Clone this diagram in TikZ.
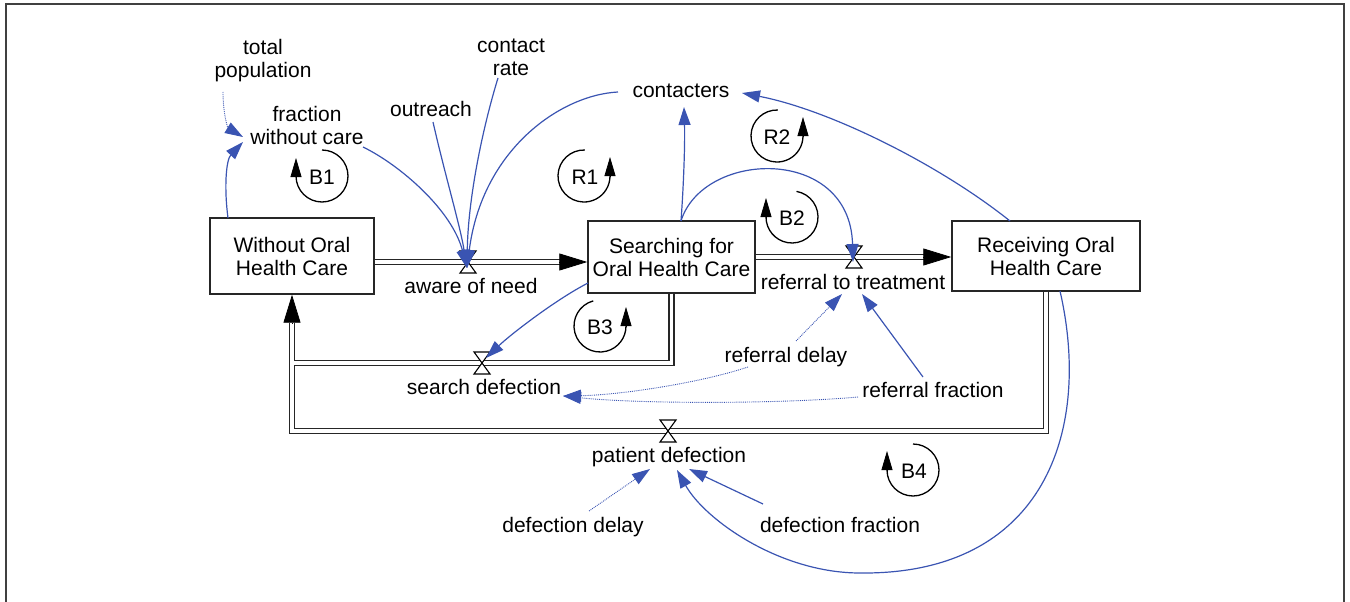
\documentclass[tikz,border=0pt]{standalone}
\usepackage{fontspec}
\setmainfont{Liberation Sans}
\usetikzlibrary{arrows.meta,calc}
\definecolor{linkblue}{RGB}{58,84,178}
\definecolor{framegray}{RGB}{64,64,64}
\tikzset{
  txt/.style={font=\fontsize{21}{23}\selectfont, inner sep=0pt, align=center},
  lab/.style={txt, anchor=base},
  stock/.style={txt, draw=black!85, line width=1.4pt},
  pipe/.style={draw=black!85, line width=1.3pt, double=white, double distance=3.6pt, line join=miter},
  pipetip/.style={-{Triangle[length=28pt,width=17pt]}, black, line width=0.8pt},
  link/.style={draw=linkblue, line width=1.2pt, -{Triangle[length=18pt,width=12pt]}},
  dlink/.style={link, line width=0.9pt, densely dotted},
  loopline/.style={black, line width=1.3pt},
  looptip/.style={-{Triangle[length=19pt,width=11pt]}, black, line width=0.8pt},
  valvestyle/.style={draw=black, fill=white, line width=1.1pt},
  valve/.pic={\draw[valvestyle] (-8,-11) -- (8,-11) -- (-8,11) -- (8,11) -- cycle;}
}
\begin{document}
\begin{tikzpicture}[x=1pt,y=-1pt]
\useasboundingbox (0,0) rectangle (1350,602);
\draw[framegray, line width=2pt] (6,602) -- (6,4) -- (1344,4) -- (1344,602);

% stocks
\node[stock, minimum width=164pt, minimum height=76pt] (wo) at (292,256) {Without Oral\\Health Care};
\node[stock, minimum width=167pt, minimum height=72pt] (sr) at (671.5,257) {Searching for\\Oral Health Care};
\node[stock, minimum width=188pt, minimum height=70pt] (rc) at (1046,256) {Receiving Oral\\Health Care};

% valve positions
\coordinate (v1) at (468,262);
\coordinate (v2) at (854,257);
\coordinate (v3) at (482,363);
\coordinate (v4) at (668,431);

% pipes
\draw[pipe, shorten >=27pt] (wo.east |- v1) -- (sr.west |- v1);
\draw[pipetip] ($(sr.west |- v1)+(-28,0)$) -- (sr.west |- v1);
\draw[pipe, shorten >=27pt] (sr.east |- v2) -- (rc.west |- v2);
\draw[pipetip] ($(rc.west |- v2)+(-28,0)$) -- (rc.west |- v2);
\draw[pipe, shorten >=28pt] (rc.south) -- (rc.south |- v4) -- (wo.south |- v4) -- (wo.south);
\draw[pipetip] ($(wo.south)+(0,29)$) -- (wo.south);
\draw[pipe] (sr.south) -- (sr.south |- v3) -- ($(wo.south |- v3)+(2.4,0)$);

\pic at (v1) {valve};
\pic at (v2) {valve};
\pic at (v3) {valve};
\pic at (v4) {valve};

% auxiliary labels
\node[txt] (tp) at (263,61) {total\\population};
\node[txt] (fwc) at (307,125) {fraction\\without care};
\node[lab] (outr) at (431,116.5) {outreach};
\node[txt] (cr) at (511,57) {contact\\rate};
\node[lab] (cont) at (681,97.5) {contacters};
\node[lab] (awn) at (471,293.5) {aware of need};
\node[lab] (rtt) at (853,289.5) {referral to treatment};
\node[lab] (sdf) at (484,394.5) {search defection};
\node[lab] (rdl) at (786,362.5) {referral delay};
\node[lab] (rfr) at (933,397.5) {referral fraction};
\node[lab] (pdf) at (669,462.5) {patient defection};
\node[lab] (ddl) at (573,532.5) {defection delay};
\node[lab] (dfr) at (840,532.5) {defection fraction};

% connector end points
\coordinate (woTop) at (228,218);
\coordinate (fwcIn) at (243,142);
\coordinate (tpOut) at (223,92);
\coordinate (fwcIn2) at (243,137);
\coordinate (fwcOut) at (363,147);
\coordinate (outrOut) at (433,122);
\coordinate (crOut) at (498,78);
\coordinate (contOut) at (618,92);
\coordinate (v1in) at (467,268);
\coordinate (srTop) at (681,221);
\coordinate (contIn) at (684,107);
\coordinate (v2in) at (853,262);
\coordinate (rcTop) at (1010,221);
\coordinate (contIn2) at (742,93);
\coordinate (srLeft) at (588,283);
\coordinate (v3in) at (486,358);
\coordinate (rdlUp) at (796,341);
\coordinate (rttIn1) at (842,294);
\coordinate (rfrUp) at (923,377);
\coordinate (rttIn2) at (862,294);
\coordinate (rdlLeft) at (748,367);
\coordinate (sdfIn) at (563,396);
\coordinate (rfrLeft) at (858,397);
\coordinate (ddlUp) at (589,511);
\coordinate (pdfIn1) at (650,469);
\coordinate (dfrUp) at (763,504);
\coordinate (pdfIn2) at (689,469);
\coordinate (rcBot) at (1060,291);
\coordinate (arcLow) at (860,573);
\coordinate (pdfIn3) at (677,470);

% links
\draw[link] (woTop) .. controls +(-4,-30) and +(-17,18) .. (fwcIn);
\draw[dlink] (tpOut) .. controls +(0,23) and +(-15,-9) .. (fwcIn2);
\draw[link] (fwcOut) .. controls +(37,18) and +(-15,-58) .. (v1in);
\draw[link] (outrOut) .. controls +(12,53) and +(-7,-43) .. (v1in);
\draw[link] (crOut) .. controls +(-16,52) and +(1,-68) .. (v1in);
\draw[link] (contOut) .. controls +(-58,3) and +(15,-118) .. (v1in);
\draw[link] (srTop) .. controls +(3,-41) and +(1,33) .. (contIn);
\draw[link] (srTop) .. controls +(22,-71) and +(-3,-117) .. (v2in);
\draw[link] (rcTop) .. controls +(-70,-56) and +(88,17) .. (contIn2);
\draw[link] (srLeft) .. controls +(-33,17) and +(24,-23) .. (v3in);
\draw[dlink] (rdlUp) -- (rttIn1);
\draw[link] (rfrUp) -- (rttIn2);
\draw[dlink] (rdlLeft) .. controls +(-48,16) and +(57,-1) .. (sdfIn);
\draw[dlink] (rfrLeft) .. controls +(-78,7) and +(77,8) .. (sdfIn);
\draw[dlink] (ddlUp) -- (pdfIn1);
\draw[link] (dfrUp) -- (pdfIn2);
\draw[link] (rcBot) .. controls +(32,139) and +(185,2) .. (arcLow)
  .. controls +(-80,0) and +(28,50) .. (pdfIn3);

% loop markers: centre coordinate, label on baseline
\coordinate (cB1) at (322,176);
\node[lab] (b1) at (322,184) {B1};
\draw[loopline] (cB1) ++(-90:26) arc[start angle=-90, end angle=180, radius=26];
\draw[looptip] (cB1) ++(-26,1) -- ++(0,-19);

\coordinate (cR1) at (584,176);
\node[lab] (r1) at (585,184) {R1};
\draw[loopline] (cR1) ++(-88:26) arc[start angle=-88, end angle=-360, radius=26];
\draw[looptip] (cR1) ++(26,1) -- ++(0,-20);

\coordinate (cB2) at (792,217);
\node[lab] (b2) at (792,225) {B2};
\draw[loopline] (cB2) ++(-80:26) arc[start angle=-80, end angle=180, radius=26];
\draw[looptip] (cB2) ++(-26,1) -- ++(0,-20);

\coordinate (cR2) at (777,136);
\node[lab] (r2) at (777,144) {R2};
\draw[loopline] (cR2) ++(-88:26) arc[start angle=-88, end angle=-360, radius=26];
\draw[looptip] (cR2) ++(26,1) -- ++(0,-20);

\coordinate (cB3) at (600,326);
\node[lab] (b3) at (600,334) {B3};
\draw[loopline] (cB3) ++(-105:26) arc[start angle=-105, end angle=-360, radius=26];
\draw[looptip] (cB3) ++(26,1) -- ++(0,-20);

\coordinate (cB4) at (913,470);
\node[lab] (b4) at (914,478) {B4};
\draw[loopline] (cB4) ++(-90:26) arc[start angle=-90, end angle=180, radius=26];
\draw[looptip] (cB4) ++(-26,1) -- ++(0,-20);
\end{tikzpicture}
\end{document}
